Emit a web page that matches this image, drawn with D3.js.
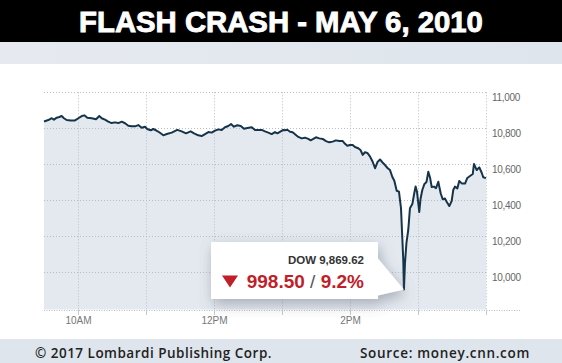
<!DOCTYPE html>
<html>
<head>
<meta charset="utf-8">
<script src="https://cdn.jsdelivr.net/npm/d3@7"></script>
<style>
  html, body { margin: 0; padding: 0; background: #fff; }
  svg { display: block; }
</style>
</head>
<body>
<div id="chart"></div>
<script>
// minutes after the 9:30 open, and Dow value at that moment
const minutes = [
  0, 3.8, 6.8, 8.8, 11.2, 13.5, 15.6, 17.6, 20, 23.6, 27.4, 30.3, 33.3, 35.6, 38.2, 42.1,
  45.9, 48.8, 50.9, 53.8, 56.7, 59.7, 62.6, 65.6, 68.6, 71.5, 74.4, 77.4, 80.3, 83.2, 86.2,
  89.1, 91.1, 94.1, 96.4, 98.8, 101.7, 105.3, 108.3, 112.7, 117.6, 121.5, 125.3, 129.4,
  132.4, 136.1, 139.1, 142.1, 145, 148, 150.9, 153.8, 156.8, 159.7, 162.6, 165, 167.6,
  170.6, 173.6, 176.5, 179.4, 183.3, 186.2, 189.1, 192.1, 195, 197.9, 200.9, 203.8, 205.9,
  208.9, 211.1, 212.6, 214.7, 217.1, 219.4, 221.5, 224.4, 227.4, 230.3, 233.2, 235.3,
  237.6, 240, 242.9, 245.9, 248.8, 251.7, 254.7, 257.6, 260.6, 263.6, 265.6, 267.6, 270,
  272.4, 274.4, 277.3, 279.4, 281.2, 283.2, 285.3, 287.6, 290, 292.1, 294.3, 296.5, 298.7,
  300.9, 303.3, 305.3, 307.3, 309.1, 311.2, 313.2, 315, 316.1, 317, 317.6, 318.5, 319.8,
  321.4, 322.9, 325, 326.7, 327.9, 329.1, 331.1, 332.2, 333.8, 335.7, 337.5, 339.1, 340.6,
  342.1, 344.1, 345.9, 347.9, 350, 351.8, 353.8, 355.3, 357.6, 359.7, 361.1, 362.6, 364.7,
  366.4, 368.6, 371.5, 373.5, 375.9, 378.3, 379.4, 381.8, 384.1, 386.2, 387.6, 390
]
const dow = [
  10838, 10846, 10856, 10848, 10859, 10863, 10868, 10856, 10846, 10844, 10844, 10856, 10868,
  10872, 10859, 10856, 10850, 10868, 10856, 10848, 10837, 10829, 10833, 10829, 10837, 10828,
  10814, 10811, 10811, 10818, 10803, 10809, 10796, 10789, 10796, 10789, 10778, 10761, 10768,
  10776, 10791, 10783, 10772, 10783, 10772, 10761, 10757, 10768, 10779, 10776, 10787, 10794,
  10791, 10806, 10813, 10824, 10809, 10817, 10813, 10798, 10802, 10806, 10791, 10791, 10791,
  10783, 10776, 10768, 10779, 10772, 10783, 10791, 10789, 10792, 10781, 10778, 10767, 10752,
  10744, 10748, 10741, 10733, 10741, 10750, 10744, 10741, 10729, 10722, 10726, 10733, 10729,
  10729, 10714, 10703, 10707, 10707, 10696, 10689, 10678, 10652, 10667, 10663, 10644, 10614,
  10578, 10613, 10627, 10610, 10596, 10578, 10568, 10531, 10509, 10453, 10448, 10356, 10198,
  10068, 9905, 10050, 10163, 10235, 10356, 10379, 10439, 10477, 10448, 10335, 10407, 10457,
  10491, 10502, 10559, 10527, 10474, 10476, 10467, 10503, 10439, 10406, 10410, 10392, 10368,
  10396, 10457, 10476, 10466, 10507, 10494, 10493, 10524, 10535, 10546, 10602, 10568, 10583,
  10553, 10528, 10523
]
const yTicks = [10000, 10200, 10400, 10600, 10800, 11000]
const hourTicks = [30, 90, 150, 210, 270, 330, 390]
const hourLabels = ['10AM', '', '12PM', '', '2PM', '', '']

const title = 'FLASH CRASH - MAY 6, 2010'
const lowLabel = 'DOW 9,869.62'
const dropPoints = '998.50'
const dropPct = '9.2%'
const credit = '\u00a9 2017 Lombardi Publishing Corp.'
const source = 'Source: money.cnn.com'

const width = 562, height = 363
const plot = { left: 44, right: 486, top: 92.3, bottom: 309.5 }

const svg = d3.select('#chart').append('svg')
    .attr('width', width)
    .attr('height', height)
    .style('font-family', 'Liberation Sans, Arial, sans-serif')

const defs = svg.append('defs')
const band = defs.append('linearGradient').attr('id', 'band')
band.append('stop').attr('offset', '0%').attr('stop-color', '#e6eaf0')
band.append('stop').attr('offset', '100%').attr('stop-color', '#dfe5ed')

const shadow = defs.append('filter').attr('id', 'shadow')
    .attr('x', '-20%').attr('y', '-30%').attr('width', '140%').attr('height', '170%')
shadow.append('feDropShadow')
    .attr('dx', 2).attr('dy', 5).attr('stdDeviation', 7)
    .attr('flood-color', '#5a6470').attr('flood-opacity', 0.45)

// header
svg.append('rect').attr('width', width).attr('height', 42).attr('fill', '#000')
const titleText = svg.append('text')
    .attr('x', width / 2).attr('y', 31.5)
    .attr('text-anchor', 'middle')
    .attr('fill', '#fff')
    .attr('stroke', '#fff')
    .attr('stroke-width', 0.9)
    .style('font-weight', 'bold')
    .style('font-size', '29px')
    .text(title)
const tw = titleText.node().getComputedTextLength()
titleText.style('font-size', (29 * 404 / tw) + 'px')

svg.append('rect').attr('y', 42).attr('width', width).attr('height', 22).attr('fill', 'url(#band)')

// scales
const x = d3.scaleLinear().domain([0, 390]).range([plot.left, plot.right])
const y = d3.scaleLinear().domain([10000, 11000]).range([272.3, plot.top])

const data = minutes.map((m, i) => ({ m: m, v: dow[i] }))

const area = d3.area()
    .x(d => x(d.m))
    .y0(plot.bottom)
    .y1(d => y(d.v))

const line = d3.line()
    .x(d => x(d.m))
    .y(d => y(d.v))

svg.append('path')
    .datum(data)
    .attr('fill', '#e4e9f0')
    .attr('d', area)

// gridlines
svg.append('g')
  .selectAll('line')
  .data(yTicks)
  .join('line')
    .attr('x1', plot.left).attr('x2', plot.right + 1)
    .attr('y1', d => Math.round(y(d)) + 0.5).attr('y2', d => Math.round(y(d)) + 0.5)
    .attr('stroke', '#b9bec6')
    .attr('stroke-dasharray', '1,2')

svg.append('g')
  .selectAll('line')
  .data(hourTicks)
  .join('line')
    .attr('x1', d => Math.round(x(d)) + 0.5).attr('x2', d => Math.round(x(d)) + 0.5)
    .attr('y1', plot.top).attr('y2', plot.bottom)
    .attr('stroke', '#b9bec6')
    .attr('stroke-dasharray', '1,2')

svg.append('path')
    .datum(data)
    .attr('fill', 'none')
    .attr('stroke', '#163449')
    .attr('stroke-width', 2)
    .attr('stroke-linejoin', 'round')
    .attr('d', line)

// bottom axis
svg.append('line')
    .attr('x1', plot.left).attr('x2', 520)
    .attr('y1', 310.5).attr('y2', 310.5)
    .attr('stroke', '#b9bec6')
    .attr('stroke-dasharray', '1,1.5')

const xAxis = svg.append('g')
    .attr('transform', 'translate(0,310)')
    .call(d3.axisBottom(x)
      .tickValues(hourTicks)
      .tickSize(5)
      .tickPadding(2)
      .tickFormat((d, i) => hourLabels[i]))
xAxis.select('.domain').remove()
xAxis.selectAll('.tick line').attr('stroke', '#c6cad0')
xAxis.selectAll('.tick text')
    .attr('fill', '#777')
    .style('font-size', '10px')
    .style('font-family', 'Liberation Sans, Arial, sans-serif')

const yAxis = svg.append('g')
    .attr('transform', 'translate(' + (plot.right + 1) + ',0)')
    .call(d3.axisRight(y)
      .tickValues(yTicks)
      .tickSize(0)
      .tickPadding(5)
      .tickFormat(d3.format(',')))
yAxis.select('.domain').remove()
yAxis.selectAll('.tick text')
    .attr('dy', '0.8em')
    .attr('fill', '#666')
    .style('font-size', '10px')
    .style('letter-spacing', '-0.3px')
    .style('font-family', 'Liberation Sans, Arial, sans-serif')

// callout at the low
const low = data[d3.minIndex(data, d => d.v)]
const tipX = x(low.m), tipY = y(low.v)
const box = { x0: 211, x1: 378, y0: 242, y1: 299 }

const callout = svg.append('g')
callout.append('path')
    .attr('d', 'M' + box.x0 + ',' + box.y0 + 'H' + box.x1 + 'V' + (tipY - 31) +
      'L' + tipX + ',' + tipY + 'L' + box.x1 + ',' + (tipY + 6) + 'V' + box.y1 +
      'H' + box.x0 + 'Z')
    .attr('fill', '#fff')
    .attr('filter', 'url(#shadow)')

callout.append('text')
    .attr('x', 364).attr('y', 263.5)
    .attr('text-anchor', 'end')
    .attr('fill', '#333')
    .style('font-size', '11.5px')
    .style('font-weight', 'bold')
    .text(lowLabel)

callout.append('path')
    .attr('d', 'M222,275.5H238L230,287.5Z')
    .attr('fill', '#bf1e2a')

const big = callout.append('text')
    .attr('x', 364).attr('y', 287.5)
    .attr('text-anchor', 'end')
    .style('font-size', '19px')
    .style('font-weight', 'bold')
big.append('tspan').attr('fill', '#bf1e2a').text(dropPoints)
big.append('tspan').attr('fill', '#555').style('font-weight', 'normal').text(' / ')
big.append('tspan').attr('fill', '#bf1e2a').text(dropPct)

// footer
svg.append('rect').attr('y', 339).attr('width', width).attr('height', 24).attr('fill', '#dfe5ed')

function fitText(t, w) {
  const len = t.node().getComputedTextLength()
  const n = t.text().length
  t.style('letter-spacing', ((w - len) / n) + 'px')
}

const creditText = svg.append('text')
    .attr('x', 35).attr('y', 357.5)
    .attr('fill', '#222')
    .style('font-family', 'Open Sans, sans-serif')
    .style('font-size', '13.5px')
    .style('font-weight', 600)
    .text(credit)
fitText(creditText, 237)

const sourceText = svg.append('text')
    .attr('x', 360).attr('y', 357.5)
    .attr('fill', '#222')
    .style('font-family', 'Open Sans, sans-serif')
    .style('font-size', '13.5px')
    .style('font-weight', 600)
    .text(source)
fitText(sourceText, 170)
</script>
</body>
</html>
